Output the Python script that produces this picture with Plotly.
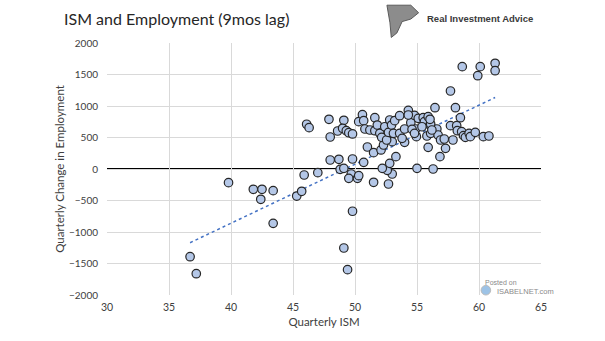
import plotly.graph_objects as go

ism = [36.7, 37.2, 39.8, 41.8, 42.5, 43.4, 42.4, 43.4, 45.3, 45.7, 45.9, 47.0, 49.1, 49.4, 49.8,
       49.7, 49.5, 50.2, 50.3, 51.5, 52.7, 53.0, 52.6, 52.2, 52.8, 48.8, 49.1, 55.0, 56.3,
       48.0, 48.7, 49.8, 50.7, 51.0, 51.5, 52.1, 53.3, 52.3, 53.0, 54.0, 55.9, 56.85, 57.3,
       46.1, 46.3, 47.9, 49.1, 48.0, 48.6, 49.0, 49.3, 49.5, 49.8, 50.3, 50.6, 50.7, 50.8, 51.2,
       51.6, 51.6, 51.8, 52.0, 52.15, 52.4, 52.55, 52.7, 52.8, 52.95, 53.1, 53.2, 53.6, 53.6, 53.8,
       54.0, 54.3, 54.5, 54.8, 54.9, 54.95, 55.1, 55.5, 55.6, 55.8, 55.9, 56.05, 56.1, 56.3, 56.6,
       56.7, 56.9, 57.2, 56.45, 58.1, 58.5, 57.7, 57.9, 58.2, 58.25, 58.6, 58.75, 58.9, 59.2, 59.3,
       59.7, 60.35, 60.8, 54.3, 55.4, 56.1, 54.6, 56.2, 54.8, 56.05,
       58.65, 60.1, 61.3, 61.3, 59.9, 57.7]
emp = [-1392, -1662, -217, -322, -322, -344, -481, -862, -429, -354, -95, -58, -1254, -1598, -671,
       -79, -148, -148, -106, -211, -238, -79, -21, 11, 90, -5, 11, 11, 0,
       143, 154, 159, 106, 349, 259, 302, 196, 381, 434, 423, 344, 196, 328,
       710, 656, 789, 773, 508, 603, 646, 608, 576, 556, 751, 862, 767, 635, 619,
       608, 814, 698, 566, 503, 671, 460, 582, 778, 698, 566, 767, 846, 566, 487,
       635, 931, 735, 852, 635, 513, 804, 814, 751, 524, 830, 698, 566, 635, 635,
       540, 460, 476, 973, 973, 814, 688, 460, 688, 608, 593, 529, 503, 566, 513,
       582, 513, 524, 857, 671, 714, 630, 619, 566, 789,
       1624, 1624, 1678, 1560, 1481, 1238]

# linear trendline as drawn in the reference (endpoints)
trend_x = [36.7, 61.3]
trend_y = [-1170, 1135]

x_ticks = [30, 35, 40, 45, 50, 55, 60, 65]
y_ticks = [-2000, -1500, -1000, -500, 0, 500, 1000, 1500, 2000]

FONT = "Lato, Open Sans, sans-serif"

fig = go.Figure()
fig.add_trace(go.Scatter(x=trend_x, y=trend_y, mode="lines",
                         line=dict(color="#4472C4", width=1.5, dash="dot"),
                         hoverinfo="skip", showlegend=False))
fig.add_trace(go.Scatter(x=ism, y=emp, mode="markers",
                         marker=dict(size=8.5, color="#B4C7E7",
                                     line=dict(color="#262626", width=1.2)),
                         showlegend=False))

fig.add_shape(type="line", xref="x", yref="y", x0=30, x1=65, y0=0, y1=0,
              line=dict(color="black", width=2), layer="below")

fig.update_layout(
    width=605, height=341,
    margin=dict(l=107, r=64, t=43, b=46),
    paper_bgcolor="white", plot_bgcolor="white",
    font=dict(family=FONT, color="#595959", size=10),
    xaxis=dict(range=[30, 65], tickvals=x_ticks, showgrid=True, gridcolor="#D9D9D9",
               gridwidth=1, zeroline=False, showline=False, ticks="",
               ticklabelstandoff=4,
               title=dict(text="Quarterly ISM", font=dict(size=11.5, color="#404040"), standoff=6),
               tickfont=dict(size=10.5, color="#404040")),
    yaxis=dict(range=[-2000, 2000], tickvals=y_ticks, showgrid=True, gridcolor="#D9D9D9",
               gridwidth=1, zeroline=False, showline=False, ticks="",
               ticklabelstandoff=8,
               title=dict(text="Quarterly Change in Employment", font=dict(size=11.5, color="#404040"), standoff=1),
               tickfont=dict(size=10, color="#404040")),
    annotations=[
        dict(text="ISM and Employment (9mos lag)", xref="paper", yref="paper",
             x=-0.104, y=1.0, yshift=25, xanchor="left", yanchor="middle", showarrow=False,
             font=dict(size=16, color="#262626", family=FONT)),
        dict(text="<b>Real Investment Advice</b>", xref="paper", yref="paper",
             x=0.733, y=1.0, yshift=25, xanchor="left", yanchor="middle", showarrow=False,
             font=dict(size=9.5, color="#3a3a3a", family="Liberation Sans, Arial, sans-serif")),
        dict(text="Posted on", xref="paper", yref="paper", x=0.867, y=0.05,
             xanchor="left", yanchor="middle", showarrow=False,
             font=dict(size=7, color="#8a8a8a", family="Liberation Sans, Arial, sans-serif")),
        dict(text="ISABELNET.com", xref="paper", yref="paper", x=0.895, y=0.015,
             xanchor="left", yanchor="middle", showarrow=False,
             font=dict(size=7.5, color="#8a8a8a", family="Liberation Sans, Arial, sans-serif")),
    ],
)

# eagle/shield-like logo mark
fig.add_shape(type="path", xref="paper", yref="paper",
              path="M 0.645 1.150 L 0.700 1.150 L 0.718 1.120 L 0.700 1.095 L 0.680 1.085 "
                   "L 0.668 1.040 L 0.655 1.022 L 0.652 1.080 Z",
              fillcolor="#8c8c8c", line=dict(color="#5a5a5a", width=1))
fig.add_shape(type="circle", xref="paper", yref="paper",
              x0=0.862, x1=0.884, y0=0.0, y1=0.038, fillcolor="#9dc3e6", line=dict(color="#bbbbbb", width=1))

fig.write_html("out.html")
